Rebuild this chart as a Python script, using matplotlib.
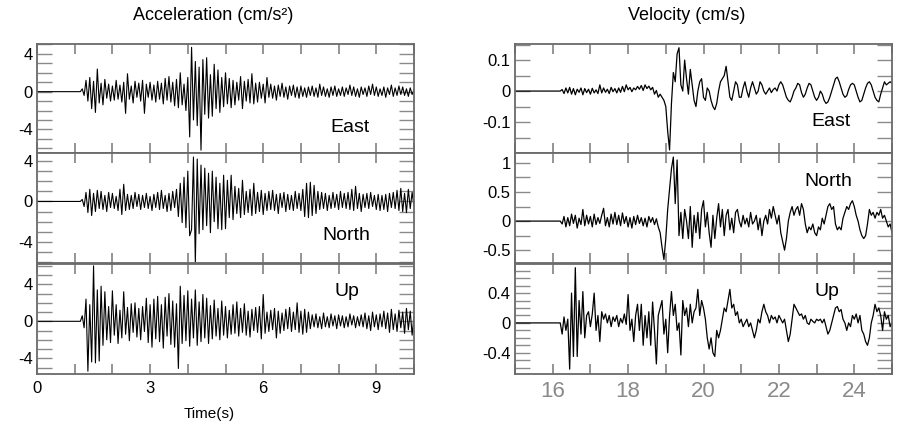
import numpy as np
import matplotlib.pyplot as plt
from matplotlib.ticker import MultipleLocator

plt.rcParams['font.family'] = ['Liberation Sans', 'DejaVu Sans']

# sampling of the read-off traces
DT = 0.05
ACC_START = 1.2     # first arrival, acceleration panels (s)
VEL_START = 16.2    # first arrival, velocity panels (s)

# acceleration (cm/s^2), one row per second
acc_east = [
    0.3, -0.4, 1.2, -1.0, 1.5, -1.8, 1.1, -2.2, 2.4, -1.2, 0.9, -1.4, 1.3, -0.7, 0.8, -1.0, 0.6, -0.9, 1.2, -0.8,
    0.7, -1.1, 1.0, -2.3, 1.9, -0.8, 0.6, -1.2, 1.1, -0.6, 0.9, -1.0, 1.2, -2.3, 0.8, -0.6, 1.0, -0.9, 0.7, -1.1,
    1.1, -0.8, 0.9, -1.3, 1.4, -0.9, 1.6, -1.1, 1.0, -1.5, 1.3, -1.7, 2.0, -1.4, 0.8, -2.0, 1.5, -4.8, 4.7, -3.0,
    3.2, -3.6, 2.6, -6.2, 3.4, -2.4, 3.6, -2.8, 1.8, -2.6, 2.9, -1.8, 2.3, -2.2, 1.5, -1.6, 2.0, -1.3, 1.4, -1.7,
    1.2, -1.4, 1.0, -0.9, 1.6, -1.8, 1.1, -1.0, 1.3, -1.2, 1.9, -1.3, 0.9, -1.1, 1.0, -0.7, 0.8, -1.2, 1.5, -0.6,
    0.8, -0.7, 0.6, -0.9, 0.7, -0.5, 0.9, -0.6, 0.5, -0.8, 0.6, -0.4, 0.7, -0.6, 0.5, -0.7, 0.6, -0.5, 0.4, -0.6,
    0.5, -0.4, 0.6, -0.5, 0.4, -0.6, 0.8, -0.4, 0.5, -0.5, 0.3, -0.6, 0.5, -0.4, 0.6, -0.5, 0.3, -0.4, 0.5, -0.5,
    0.4, -0.3, 0.7, -0.4, 0.5, -0.5, 0.3, -0.6, 0.5, -0.3, 0.4, -0.5, 0.6, -0.3, 0.8, -0.4, 0.5, -0.5, 0.3, -0.4,
    0.5, -0.6, 0.4, -0.3, 0.7, -0.5, 0.4, -0.4, 0.6, -0.3, 0.5, -0.4, 0.3, -0.5, 0.4, -0.3, 0.2,
]
acc_north = [
    0.2, -0.5, 0.9, -1.1, 1.2, -1.4, 0.8, -1.0, 1.1, -0.7, 1.0, -0.8, 0.6, -1.0, 0.9, -0.6, 0.8, -0.7, 0.5, -0.9,
    1.2, -1.3, 1.7, -0.9, 0.7, -0.8, 0.6, -0.7, 0.9, -0.5, 0.7, -0.8, 0.6, -0.6, 0.8, -0.7, 0.5, -0.9, 0.7, -0.6,
    0.9, -0.8, 1.1, -0.7, 0.6, -1.0, 0.8, -0.9, 1.0, -0.6, 1.2, -1.5, 1.8, -2.1, 2.4, -2.6, 3.0, -3.4, -2.8, 4.4,
    -6.1, 4.2, -3.2, 3.6, -2.8, 3.3, -2.4, 2.8, -3.1, 3.0, -2.0, 2.4, -2.7, 1.8, -2.8, 2.6, -2.7, 2.1, -1.6, 2.6,
    -1.8, 1.5, -1.2, 1.3, -1.6, 2.1, -1.3, 1.0, -1.1, 1.2, -1.4, 1.8, -1.2, 0.9, -1.0, 1.1, -1.3, 0.8, -0.9, 1.0,
    -0.8, 1.1, -0.9, 0.7, -1.2, 0.8, -0.6, 0.9, -1.0, 0.7, -0.8, 0.6, -0.9, 1.0, -0.7, 0.8, -0.9, 1.2, -1.5, 1.8,
    -1.6, 1.9, -1.4, 1.6, -1.2, 1.0, -0.8, 0.9, -0.7, 0.8, -0.9, 0.6, -0.7, 0.9, -0.6, 0.7, -0.8, 1.0, -0.6, 0.8,
    -0.7, 0.9, -0.8, 1.2, -0.9, 1.5, -0.7, 0.8, -1.0, 0.7, -0.6, 0.8, -0.7, 0.9, -0.5, 0.6, -0.8, 0.7, -0.9, 0.6,
    -0.8, 0.7, -1.0, 0.8, -0.6, 0.9, -0.7, 1.1, -0.9, 1.3, -1.0, 0.8, -1.1, 1.2, -0.7, 0.9, -0.5,
]
acc_up = [
    0.6, -0.7, 2.4, -5.4, 1.8, -4.4, 6.0, -4.5, 3.4, -4.3, 3.8, -2.6, 3.2, -2.0, 1.6, -2.3, 3.3, -1.5, 1.8, -2.4,
    1.2, -1.8, 3.2, -1.4, 1.5, -2.1, 1.9, -1.2, 2.0, -1.7, 1.4, -2.0, 1.6, -1.1, 2.5, -2.3, 1.8, -2.8, 2.4, -1.9,
    2.7, -2.2, 1.8, -2.9, 2.6, -1.6, 3.0, -2.5, 2.2, -2.8, 1.9, -5.1, 3.8, -2.4, 2.8, -2.1, 3.3, -2.7, 2.4, -1.8,
    3.4, -2.6, 2.1, -2.2, 2.9, -1.8, 2.5, -2.4, 1.7, -1.9, 2.3, -1.6, 1.4, -2.0, 2.2, -1.5, 1.6, -1.8, 1.2, -1.4,
    1.8, -1.3, 2.1, -1.6, 1.4, -1.2, 1.9, -1.5, 1.1, -1.7, 1.3, -1.0, 1.5, -1.2, 1.6, -1.9, 2.9, -1.3, 1.0, -1.1,
    1.2, -0.9, 1.4, -1.8, 1.1, -1.3, 0.9, -1.0, 1.3, -0.8, 1.5, -1.1, 1.0, -0.9, 2.0, -1.2, 1.1, -1.4, 1.3, -1.2,
    1.0, -0.8, 0.7, -0.6, 0.8, -0.7, 0.5, -0.8, 0.9, -0.6, 0.5, -0.7, 0.8, -0.5, 0.6, -0.8, 0.7, -0.5, 0.6, -0.7,
    0.5, -0.6, 0.8, -0.4, 0.6, -0.7, 0.5, -0.5, 0.7, -0.6, 0.9, -0.8, 0.6, -1.0, 1.0, -0.6, 0.7, -0.9, 0.8, -0.6,
    1.1, -0.8, 0.9, -1.2, 1.3, -0.9, 0.8, -1.1, 1.2, -0.7, 1.0, -1.3, 1.4, -0.9, 1.1, -1.5, 0.6,
]

# velocity (cm/s), one row per second
vel_east = [
    0.0, 0.005, -0.008, 0.010, -0.006, 0.012, -0.010, 0.008, -0.012, 0.006, -0.004, 0.010, -0.012, 0.008, -0.005, 0.006, -0.010, 0.009, -0.006, 0.004,
    -0.008, 0.020, -0.006, 0.010, -0.004, 0.006, -0.008, 0.012, -0.002, 0.008, -0.006, 0.010, -0.004, 0.015, -0.002, 0.020, 0.004, 0.012, -0.002, 0.010,
    0.004, 0.015, 0.006, 0.018, 0.002, 0.020, 0.008, 0.016, 0.004, 0.012, -0.010, 0.002, -0.020, -0.010, -0.020, -0.030, -0.050, -0.130, -0.190, -0.040,
    0.060, 0.030, 0.120, 0.140, 0.020, 0.000, 0.100, 0.040, -0.010, 0.070, 0.020, -0.030, -0.050, 0.000, 0.030, 0.040, -0.020, -0.030, 0.010, 0.000,
    -0.030, -0.050, -0.060, -0.040, 0.000, 0.030, 0.040, 0.050, 0.080, 0.030, -0.020, -0.030, 0.000, 0.030, 0.020, -0.020, -0.020, 0.010, 0.030, 0.000,
    -0.020, 0.010, 0.030, 0.010, -0.010, 0.000, 0.030, 0.020, 0.000, -0.010, 0.000, 0.010, -0.005, 0.005, 0.010, 0.000, 0.020, 0.030, 0.020, 0.000,
    -0.020, -0.030, -0.035, -0.020, 0.000, 0.010, 0.025, 0.020, -0.005, -0.020, -0.010, 0.010, 0.025, 0.020, 0.000, -0.020, -0.030, -0.020, 0.000, -0.010,
    -0.030, -0.040, -0.035, -0.020, 0.000, 0.020, 0.040, 0.045, 0.030, 0.010, -0.010, -0.020, -0.015, 0.005, 0.020, 0.025, 0.020, 0.000, -0.020, -0.035,
    -0.030, -0.010, 0.010, 0.025, 0.030, 0.020, 0.000, -0.020, -0.030, -0.035, -0.010, 0.010, 0.030, 0.020, 0.025, 0.030, 0.025,
]
vel_north = [
    0.00, -0.05, 0.08, -0.10, 0.06, -0.08, 0.12, -0.04, 0.10, -0.12, 0.05, -0.06, 0.20, -0.08, 0.10, -0.05, 0.08, -0.10, 0.12, -0.06,
    0.06, -0.04, 0.10, 0.22, -0.08, 0.06, -0.10, 0.12, -0.05, 0.15, -0.06, 0.10, -0.08, 0.14, -0.04, 0.08, -0.10, 0.06, -0.12, 0.08,
    -0.06, 0.10, -0.04, 0.06, -0.08, 0.05, -0.10, 0.08, -0.02, 0.06, -0.06, 0.04, -0.10, -0.20, -0.45, -0.66, -0.30, 0.20, 0.55, 0.90,
    1.10, 0.30, 1.05, -0.25, 0.15, -0.30, 0.20, 0.00, -0.30, 0.25, -0.45, 0.10, -0.20, 0.15, -0.30, 0.20, 0.35, -0.10, 0.15, -0.20,
    -0.45, 0.10, -0.30, 0.05, 0.30, -0.10, 0.20, -0.25, 0.10, 0.20, -0.15, 0.05, -0.20, 0.15, 0.20, 0.00, -0.10, 0.10, -0.05, 0.05,
    -0.10, 0.15, -0.05, 0.00, 0.10, -0.15, 0.05, -0.25, 0.00, 0.10, -0.05, 0.20, 0.05, 0.25, 0.10, -0.05, 0.10, -0.20, -0.35, -0.50,
    -0.30, 0.00, 0.15, 0.25, 0.10, 0.20, 0.25, 0.10, 0.30, 0.20, -0.05, -0.20, -0.10, -0.15, -0.05, -0.20, -0.25, -0.10, -0.15, 0.05,
    -0.05, 0.10, 0.25, 0.30, 0.20, 0.25, -0.05, -0.15, -0.10, -0.15, 0.05, 0.15, 0.25, 0.20, 0.30, 0.35, 0.25, 0.10, 0.00, -0.15,
    -0.25, -0.30, -0.25, -0.05, 0.20, 0.10, 0.15, 0.05, 0.15, 0.10, 0.20, 0.05, 0.10, 0.00, -0.10, -0.05, -0.20,
]
vel_up = [
    0.00, -0.15, 0.08, -0.10, 0.05, -0.62, 0.40, -0.45, 0.74, -0.45, 0.30, -0.15, 0.42, -0.20, 0.10, 0.15, -0.05, 0.12, 0.40, -0.10,
    0.10, -0.25, 0.15, 0.05, 0.12, 0.00, 0.10, -0.05, 0.08, 0.02, 0.10, -0.05, 0.06, 0.00, 0.12, -0.02, 0.38, -0.10, 0.05, -0.25,
    0.10, 0.25, -0.10, 0.25, -0.30, 0.10, -0.20, 0.15, -0.30, 0.28, -0.10, -0.55, 0.10, 0.20, 0.30, -0.15, 0.05, -0.40, 0.10, 0.42,
    0.10, 0.25, -0.10, 0.00, -0.43, 0.30, 0.10, 0.20, -0.05, 0.25, 0.00, 0.15, 0.20, 0.45, 0.10, 0.30, 0.20, 0.05, -0.20, -0.35,
    -0.20, -0.40, -0.45, -0.10, -0.20, -0.10, 0.05, 0.20, 0.15, 0.30, 0.45, 0.20, 0.25, 0.10, 0.15, 0.00, 0.05, -0.05, 0.00, 0.05,
    -0.05, 0.00, -0.10, -0.20, -0.10, 0.05, 0.00, 0.15, 0.25, 0.15, 0.10, 0.00, 0.10, 0.05, 0.08, 0.00, 0.10, 0.05, 0.00, 0.05,
    -0.10, -0.25, -0.15, 0.05, 0.25, 0.20, 0.15, 0.10, 0.12, 0.05, 0.10, 0.00, -0.02, 0.05, 0.02, 0.00, 0.05, 0.03, 0.05, 0.00,
    0.05, -0.05, -0.15, -0.10, 0.00, 0.10, 0.20, 0.22, 0.15, 0.18, 0.05, 0.00, -0.10, 0.00, -0.05, 0.10, 0.05, 0.12, 0.00, 0.10,
    -0.10, -0.15, -0.25, -0.30, -0.20, 0.00, 0.10, 0.25, 0.15, 0.20, 0.10, -0.10, 0.15, 0.05, 0.10, -0.05, 0.00,
]

components = ["East", "North", "Up"]
acc_traces = [acc_east, acc_north, acc_up]
vel_traces = [vel_east, vel_north, vel_up]

acc_xticks = list(range(0, 11))
acc_xlabels = ["0", "", "", "3", "", "", "6", "", "", "9", ""]
vel_xticks = list(range(15, 26))
vel_xlabels = ["", "16", "", "18", "", "20", "", "22", "", "24", ""]

acc_yticks = [-4, 0, 4]
acc_ylims = [(-6.5, 5.05), (-6.1, 4.8), (-5.7, 6.2)]
vel_yticks = [[-0.1, 0, 0.1], [-0.5, 0, 0.5, 1], [-0.4, 0, 0.4]]
vel_yminor = [0.05, 0.25, 0.1]
vel_ylims = [(-0.2, 0.152), (-0.72, 1.17), (-0.685, 0.79)]


def fmt(v):
    return "0" if v == 0 else f"{v:g}"


def with_lead(t0, start, vals):
    # flat zero line from the left edge up to the first arrival
    t = np.concatenate([[t0, start - DT], start + DT * np.arange(len(vals))])
    y = np.concatenate([[0.0, 0.0], vals])
    return t, y


def style(ax):
    for s in ax.spines.values():
        s.set_color("#6a6a6a")
        s.set_linewidth(1.3)
    ax.tick_params(axis="x", which="both", direction="in", top=True, bottom=True,
                   length=7, width=1.1, color="#777777")
    ax.tick_params(axis="y", which="both", direction="in", left=True, right=True,
                   length=11, width=1.0, color="#8a8a8a", labelsize=12, pad=3)


fig = plt.figure(figsize=(8.99, 4.25), dpi=100)
W, H = 899, 425
rows = [(44, 153), (153, 263), (264, 374)]
cols = [(37, 414), (515, 892)]

for i, (y0, y1) in enumerate(rows):
    # acceleration column
    ax = fig.add_axes([cols[0][0] / W, 1 - y1 / H, (cols[0][1] - cols[0][0]) / W, (y1 - y0) / H])
    t, y = with_lead(0.0, ACC_START, acc_traces[i])
    ax.plot(t, y, color="black", lw=0.8)
    ax.set_xlim(0, 10)
    ax.set_ylim(*acc_ylims[i])
    ax.set_xticks(acc_xticks)
    ax.set_yticks(acc_yticks)
    ax.set_yticklabels([fmt(v) for v in acc_yticks])
    ax.yaxis.set_minor_locator(MultipleLocator(1))
    style(ax)
    if i == 2:
        ax.set_xticklabels(acc_xlabels, fontsize=12)
        ax.tick_params(axis="x", pad=5)
    else:
        ax.set_xticklabels([])

    # velocity column
    ax = fig.add_axes([cols[1][0] / W, 1 - y1 / H, (cols[1][1] - cols[1][0]) / W, (y1 - y0) / H])
    t, y = with_lead(15.0, VEL_START, vel_traces[i])
    ax.plot(t, y, color="black", lw=0.9)
    ax.set_xlim(15, 25)
    ax.set_ylim(*vel_ylims[i])
    ax.set_xticks(vel_xticks)
    ax.set_yticks(vel_yticks[i])
    ax.set_yticklabels([fmt(v) for v in vel_yticks[i]])
    ax.yaxis.set_minor_locator(MultipleLocator(vel_yminor[i]))
    style(ax)
    if i == 2:
        ax.set_xticklabels(vel_xlabels, fontsize=16, color="#8a8a8a",
                           family=["Liberation Sans Narrow", "Liberation Sans"])
        ax.tick_params(axis="x", pad=5)
    else:
        ax.set_xticklabels([])

# component names
acc_label_pos = [(350, 128), (346, 235), (347, 292)]
vel_label_pos = [(831, 122), (828, 181), (827, 292)]
for name, (px, py) in zip(components, acc_label_pos):
    fig.text(px / W, 1 - py / H, name, fontsize=14, ha="center", va="center")
for name, (px, py) in zip(components, vel_label_pos):
    fig.text(px / W, 1 - py / H, name, fontsize=14, ha="center", va="center")

fig.text(213 / W, 1 - 16 / H, "Acceleration (cm/s²)", fontsize=13, ha="center", va="center")
fig.text(687 / W, 1 - 16 / H, "Velocity (cm/s)", fontsize=13, ha="center", va="center")
fig.text(209 / W, 1 - 414 / H, "Time(s)", fontsize=11, ha="center", va="center")

plt.savefig("out.png", dpi=100)
